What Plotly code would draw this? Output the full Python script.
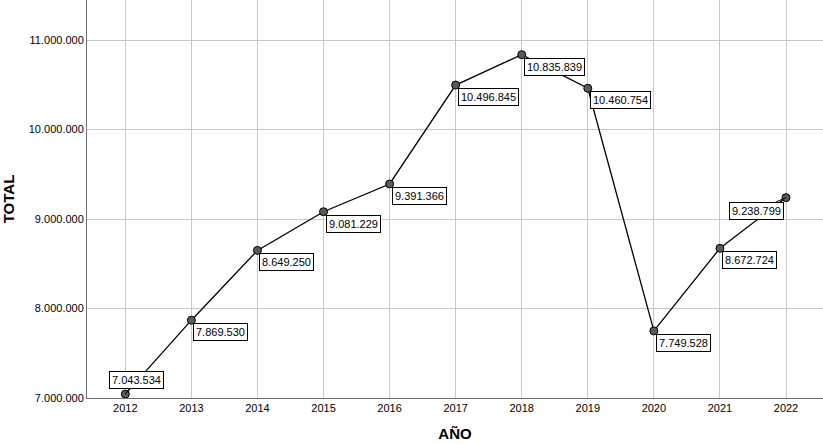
import plotly.graph_objects as go

years = [2012, 2013, 2014, 2015, 2016, 2017, 2018, 2019, 2020, 2021, 2022]
totals = [7043534, 7869530, 8649250, 9081229, 9391366, 10496845, 10835839,
          10460754, 7749528, 8672724, 9238799]
y_ticks = [7000000, 8000000, 9000000, 10000000, 11000000]
# label offsets in pixels (None = plain below-right box)
label_offsets = [(11, -14), None, None, None, None, None, None, None, None, None, (-30, 13)]


def fmt(v):
    return f"{v:,}".replace(",", ".")


fig = go.Figure()
fig.add_trace(go.Scatter(
    x=years, y=totals, mode="lines+markers",
    line=dict(color="black", width=1.3),
    marker=dict(size=8, color="#5a5a5a", line=dict(color="black", width=1)),
    showlegend=False, hoverinfo="skip"))

box = dict(bgcolor="white", bordercolor="black", borderwidth=1, borderpad=2,
           font=dict(family="Arial, Liberation Sans", size=11, color="black"))
annotations = []
for x, y, off in zip(years, totals, label_offsets):
    if off is None:
        annotations.append(dict(
            x=x, y=y, xref="x", yref="y", text=fmt(y), showarrow=False,
            xanchor="left", yanchor="top", xshift=2, yshift=-3, **box))
    else:
        annotations.append(dict(
            x=x, y=y, xref="x", yref="y", text=fmt(y), showarrow=True,
            arrowhead=0, arrowwidth=1, arrowcolor="black",
            ax=off[0], ay=off[1], **box))

fig.update_layout(
    width=823, height=444,
    margin=dict(l=87, r=0, t=0, b=46),
    paper_bgcolor="white", plot_bgcolor="white",
    separators=",.",
    font=dict(family="Arial, Liberation Sans", size=11, color="black"),
    annotations=annotations,
    xaxis=dict(
        range=[2011.42, 2022.56], tickvals=years, ticktext=[str(y) for y in years],
        showgrid=True, gridcolor="#c8c8c8", gridwidth=1,
        showline=True, linecolor="#707070", linewidth=1,
        ticks="", zeroline=False, automargin=False,
        title=dict(text="<b>AÑO</b>", font=dict(size=15), standoff=15),
        tickfont=dict(size=11)),
    yaxis=dict(
        range=[7000000, 11447000], tickvals=y_ticks,
        ticktext=[fmt(v) for v in y_ticks],
        showgrid=True, gridcolor="#c8c8c8", gridwidth=1,
        showline=True, linecolor="#707070", linewidth=1,
        ticks="", zeroline=False, automargin=False,
        title=dict(text="<b>TOTAL</b>", font=dict(size=15), standoff=18),
        tickfont=dict(size=11)),
)

fig.write_html("out.html", config={"displayModeBar": False},
               post_script="document.body.style.margin='0';document.body.style.overflow='hidden';")
